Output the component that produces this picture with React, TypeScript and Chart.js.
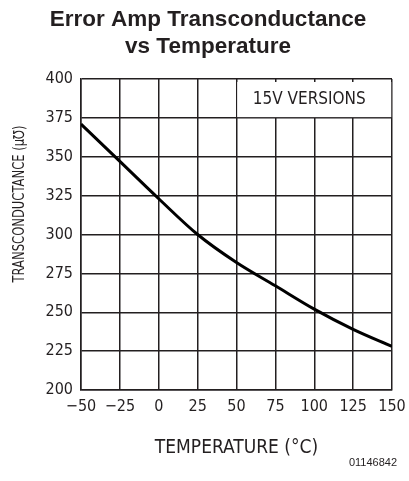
import React, { useEffect, useRef } from "react";
import { Chart, registerables } from "chart.js";

Chart.register(...registerables);

const temperatures = [-50, -25, 0, 25, 50, 75, 100, 125, 150];
const transconductance = [371, 347, 323, 300, 282, 267, 252, 239, 228];
const xTicks = { min: -50, max: 150, step: 25 };
const yTicks = { min: 200, max: 400, step: 25 };
const titleLines = ["Error Amp Transconductance", "vs Temperature"];
const yTitle = "TRANSCONDUCTANCE (\u03bc\u2127)";
const xTitle = "TEMPERATURE (\u00b0C)";
const annotationText = "15V VERSIONS";
const figureCode = "01146842";

const INK = "#231f20";
const TECH_FONT = "'DejaVu Sans Condensed', 'DejaVu Sans', sans-serif";

const overlayPlugin = {
  id: "overlay",
  beforeDatasetsDraw(chart: any) {
    const { ctx, chartArea, scales } = chart;
    const x50 = scales.x.getPixelForValue(50);
    const y375 = scales.y.getPixelForValue(375);
    ctx.save();
    ctx.fillStyle = "#ffffff";
    ctx.fillRect(x50 + 0.75, chartArea.top + 3, chartArea.right - x50 - 1.5, y375 - chartArea.top - 3.75);
    ctx.fillStyle = INK;
    ctx.font = `17px ${TECH_FONT}`;
    ctx.textAlign = "center";
    ctx.textBaseline = "middle";
    ctx.fillText(annotationText, (x50 + chartArea.right) / 2 - 5, (chartArea.top + y375) / 2 + 1);
    ctx.restore();
  },
  afterDraw(chart: any) {
    const { ctx } = chart;
    ctx.save();
    ctx.translate(20, 204);
    ctx.rotate(-Math.PI / 2);
    ctx.fillStyle = INK;
    ctx.font = `15px ${TECH_FONT}`;
    ctx.textAlign = "center";
    ctx.textBaseline = "middle";
    ctx.fillText(yTitle, 0, 0, 157);
    ctx.restore();
  },
};

export default function App() {
  const canvasRef = useRef<HTMLCanvasElement | null>(null);

  useEffect(() => {
    if (!canvasRef.current) return;
    const chart = new Chart(canvasRef.current, {
      type: "line",
      data: {
        datasets: [
          {
            data: temperatures.map((t, i) => ({ x: t, y: transconductance[i] })),
            borderColor: "#000000",
            borderWidth: 3,
            pointRadius: 0,
            fill: false,
            cubicInterpolationMode: "monotone",
          },
        ],
      },
      options: {
        animation: false,
        responsive: true,
        maintainAspectRatio: false,
        layout: { padding: { left: 19, right: 12, top: 0, bottom: 0 } },
        plugins: {
          legend: { display: false },
          tooltip: { enabled: false },
          title: {
            display: true,
            text: titleLines,
            color: INK,
            font: { family: "'Liberation Sans', Arial, sans-serif", size: 22.5, weight: "bold", lineHeight: 1.2 },
            padding: { top: 6.5, bottom: 18.5 },
          },
          subtitle: {
            display: true,
            position: "bottom",
            align: "end",
            text: figureCode,
            color: INK,
            font: { family: "'Liberation Sans', Arial, sans-serif", size: 11, lineHeight: 1.2 },
            padding: { top: 0, bottom: 11 },
          },
        },
        scales: {
          x: {
            type: "linear",
            min: xTicks.min,
            max: xTicks.max,
            afterFit(scale: any) {
              scale.height = 66.8;
              scale.paddingRight = 17;
            },
            ticks: {
              stepSize: xTicks.step,
              color: INK,
              font: { family: TECH_FONT, size: 16 },
              padding: 7,
              maxRotation: 0,
              callback: (v: any) => String(v).replace("-", "\u2212"),
            },
            grid: { color: INK, lineWidth: 1.5, drawTicks: false },
            border: { color: INK, width: 1.5 },
            title: {
              display: true,
              text: xTitle,
              color: INK,
              font: { family: TECH_FONT, size: 19, lineHeight: 1.2 },
              padding: { top: 0, bottom: -3 },
            },
          },
          y: {
            min: yTicks.min,
            max: yTicks.max,
            afterFit(scale: any) {
              scale.width = 62;
            },
            ticks: {
              stepSize: yTicks.step,
              color: INK,
              font: { family: TECH_FONT, size: 16 },
              padding: 8,
            },
            grid: { color: INK, lineWidth: 1.5, drawTicks: false },
            border: { color: INK, width: 1.5 },
          },
        },
      },
      plugins: [overlayPlugin],
    } as any);
    return () => chart.destroy();
  }, []);

  return (
    <div style={{ position: "fixed", left: 0, top: 0, width: 409, height: 481, background: "#fff" }}>
      <canvas ref={canvasRef} />
    </div>
  );
}
